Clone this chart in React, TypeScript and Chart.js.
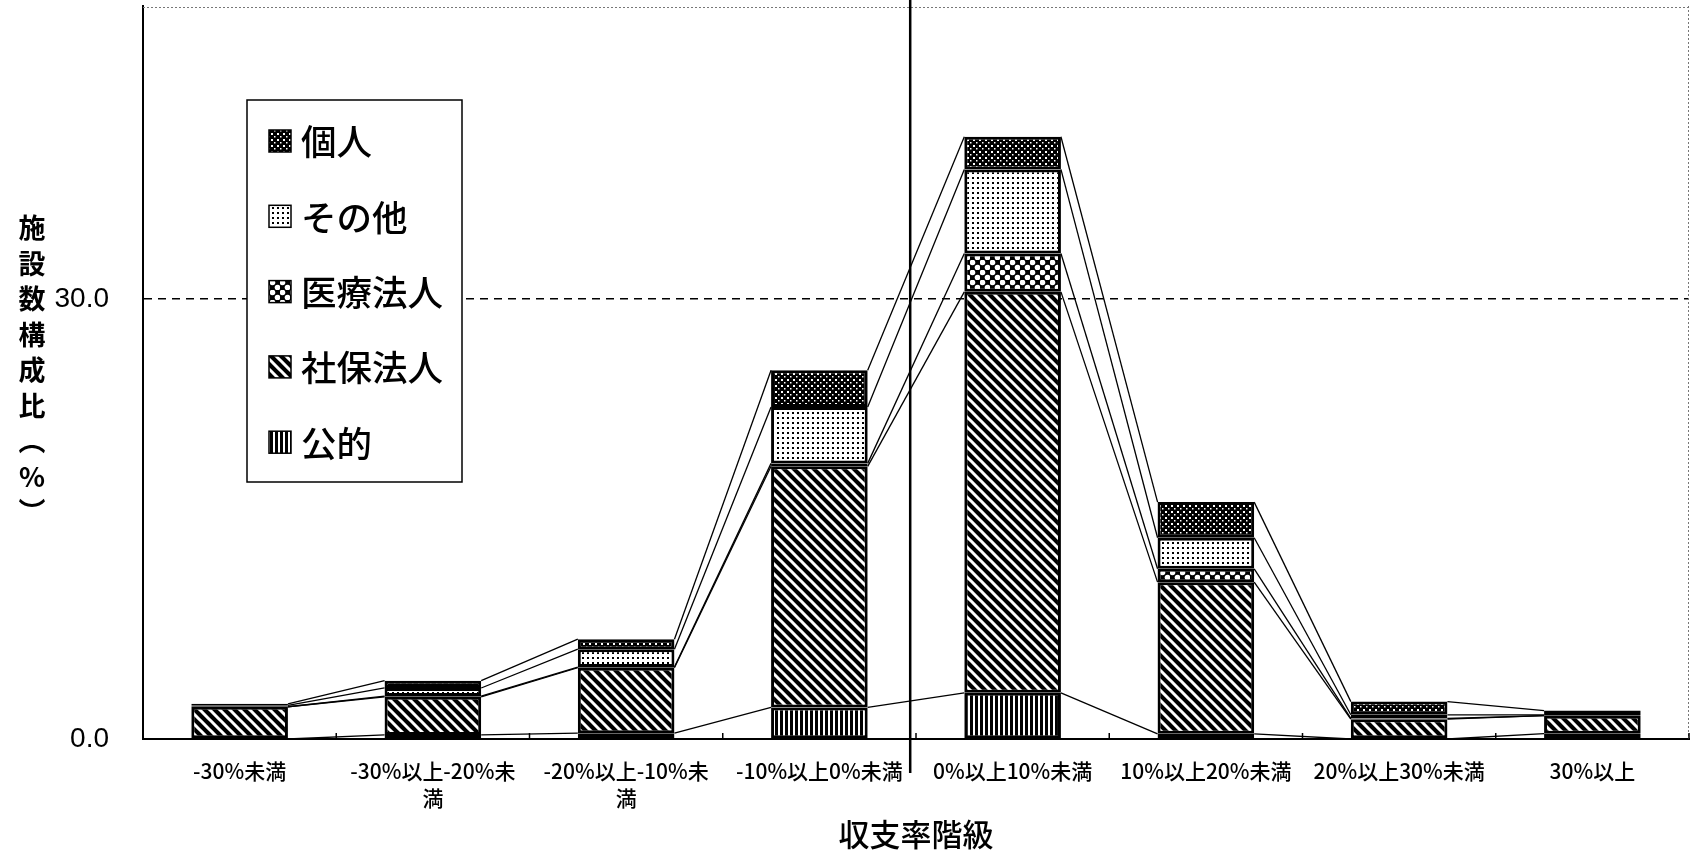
import React, { useEffect, useRef } from 'react';
import { Chart, registerables } from 'chart.js';

Chart.register(...registerables);

// ---- data ----
const categories: (string | string[])[] = [
  '-30%未満',
  ['-30%以上-20%未', '満'],
  ['-20%以上-10%未', '満'],
  '-10%以上0%未満',
  '0%以上10%未満',
  '10%以上20%未満',
  '20%以上30%未満',
  '30%以上',
];

// stacked bottom -> top
const koteki = [0, 0.28, 0.4, 2.15, 3.15, 0.35, 0, 0.36]; // 公的
const shaho = [2.2, 2.6, 4.46, 16.45, 27.35, 10.35, 1.35, 1.23]; // 社保法人
const iryo = [0, 0.05, 0.05, 0.2, 2.62, 0.91, 0.05, 0]; // 医療法人
const sonota = [0.1, 0.55, 1.22, 3.85, 5.73, 2.12, 0.25, 0.05]; // その他
const kojin = [0.1, 0.5, 0.68, 2.5, 2.23, 2.43, 0.9, 0.3]; // 個人

const seriesNames = ['公的', '社保法人', '医療法人', 'その他', '個人'];
const seriesValues = [koteki, shaho, iryo, sonota, kojin];
const patternKinds = ['vertical', 'diagonal', 'checker', 'lightdots', 'darkdots'];
const legendOrder = [4, 3, 2, 1, 0];

const yTickValues = [0, 30];
const yMax = 50;
const yTitle = '施設数構成比（%）';
const xTitle = '収支率階級';

const JP = "'Noto Sans CJK JP', 'Noto Sans', sans-serif";

function makePattern(kind: string): CanvasPattern | string {
  const c = document.createElement('canvas');
  let w = 10, h = 10;
  if (kind === 'darkdots') { w = 6; h = 6; }
  if (kind === 'lightdots') { w = 5; h = 5; }
  if (kind === 'vertical') { w = 5; h = 2; }
  c.width = w; c.height = h;
  const g = c.getContext('2d');
  if (!g) return '#000';
  if (kind === 'darkdots') {
    g.fillStyle = '#000'; g.fillRect(0, 0, w, h);
    g.fillStyle = '#fff'; g.fillRect(1, 1, 2, 2); g.fillRect(4, 4, 1.5, 1.5);
  } else if (kind === 'lightdots') {
    g.fillStyle = '#fff'; g.fillRect(0, 0, w, h);
    g.fillStyle = '#000'; g.fillRect(2, 2, 2, 2);
  } else if (kind === 'checker') {
    g.fillStyle = '#000'; g.fillRect(0, 0, w, h);
    g.fillStyle = '#fff';
    g.beginPath(); g.arc(2.5, 2.5, 2.8, 0, Math.PI * 2); g.fill();
    g.beginPath(); g.arc(7.5, 7.5, 2.8, 0, Math.PI * 2); g.fill();
  } else if (kind === 'diagonal') {
    g.fillStyle = '#000'; g.fillRect(0, 0, w, h);
    g.strokeStyle = '#fff'; g.lineWidth = 3;
    g.beginPath();
    g.moveTo(-5, -5); g.lineTo(15, 15);
    g.moveTo(-5, 5); g.lineTo(5, 15);
    g.moveTo(5, -5); g.lineTo(15, 5);
    g.stroke();
  } else if (kind === 'vertical') {
    g.fillStyle = '#fff'; g.fillRect(0, 0, w, h);
    g.fillStyle = '#000'; g.fillRect(0, 0, 3, h);
  }
  const p = g.createPattern(c, 'repeat');
  return p || '#000';
}

function cumulative(d: number, i: number): number {
  let s = 0;
  for (let k = 0; k <= d; k++) s += seriesValues[k][i];
  return s;
}

const seriesLinesPlugin = {
  id: 'seriesLines',
  afterDatasetsDraw(chart: any) {
    const ctx = chart.ctx;
    const y = chart.scales.y;
    const meta = chart.getDatasetMeta(0);
    ctx.save();
    ctx.strokeStyle = '#000';
    ctx.lineWidth = 1.3;
    for (let d = 0; d < seriesValues.length; d++) {
      for (let i = 0; i < categories.length - 1; i++) {
        const a = meta.data[i];
        const b = meta.data[i + 1];
        const ax = a.x + a.width / 2;
        const bx = b.x - b.width / 2;
        ctx.beginPath();
        ctx.moveTo(ax, y.getPixelForValue(cumulative(d, i)));
        ctx.lineTo(bx, y.getPixelForValue(cumulative(d, i + 1)));
        ctx.stroke();
      }
    }
    ctx.restore();
  },
};

const decorPlugin = {
  id: 'decor',
  afterDraw(chart: any) {
    const ctx = chart.ctx;
    const { left, right, top, bottom } = chart.chartArea;
    const xs = chart.scales.x;
    ctx.save();
    // dotted top / right frame
    ctx.strokeStyle = '#777';
    ctx.lineWidth = 1;
    ctx.setLineDash([2, 2]);
    ctx.beginPath();
    ctx.moveTo(left, top + 1.5); ctx.lineTo(right, top + 1.5);
    ctx.moveTo(right - 0.5, top); ctx.lineTo(right - 0.5, bottom);
    ctx.stroke();
    ctx.setLineDash([]);
    // small inward ticks at category boundaries
    ctx.strokeStyle = '#000';
    ctx.lineWidth = 1.5;
    ctx.beginPath();
    for (let k = 1; k <= categories.length; k++) {
      const x = xs.getPixelForValue(k - 0.5);
      ctx.moveTo(x, bottom); ctx.lineTo(x, bottom - 6);
    }
    ctx.stroke();
    // vertical divider line
    const vx = xs.getPixelForValue(3.47);
    ctx.lineWidth = 2.5;
    ctx.beginPath();
    ctx.moveTo(vx, 0); ctx.lineTo(vx, bottom + 34);
    ctx.stroke();

    // y axis title (vertical stacked characters)
    ctx.fillStyle = '#000';
    ctx.font = `bold 27px ${JP}`;
    ctx.textAlign = 'center';
    ctx.textBaseline = 'middle';
    const chars = Array.from(yTitle).map((ch) => (ch === '（' ? '︵' : ch === '）' ? '︶' : ch));
    chars.forEach((ch, i) => {
      ctx.fillText(ch, 32, 228 + i * 35.5);
    });

    // x axis title
    ctx.font = `500 31px ${JP}`;
    ctx.fillText(xTitle, (left + right) / 2, 834);

    // legend
    const bx = 247, by = 100, bw = 215, bh = 382;
    ctx.fillStyle = '#fff';
    ctx.fillRect(bx, by, bw, bh);
    ctx.strokeStyle = '#000';
    ctx.lineWidth = 1.5;
    ctx.strokeRect(bx, by, bw, bh);
    ctx.font = `500 35.5px ${JP}`;
    ctx.textAlign = 'left';
    legendOrder.forEach((si, row) => {
      const cy = 141 + row * 75.3;
      const ds = chart.data.datasets[si];
      ctx.fillStyle = ds.backgroundColor;
      ctx.fillRect(269, cy - 11, 22, 22);
      ctx.lineWidth = 1.5;
      ctx.strokeRect(269, cy - 11, 22, 22);
      ctx.fillStyle = '#000';
      ctx.fillText(seriesNames[si], 301, cy + 1);
    });
    ctx.restore();
  },
};

export default function App() {
  const ref = useRef<HTMLCanvasElement | null>(null);

  useEffect(() => {
    if (!ref.current) return;
    const datasets = seriesValues.map((vals, i) => ({
      label: seriesNames[i],
      data: vals,
      backgroundColor: makePattern(patternKinds[i]),
      borderColor: '#000',
      borderWidth: 3,
      borderSkipped: false,
      categoryPercentage: 1,
      barPercentage: 0.5,
    }));
    const chart = new Chart(ref.current, {
      type: 'bar',
      data: { labels: categories, datasets: datasets as any },
      options: {
        animation: false,
        responsive: false,
        layout: { padding: { top: 6, right: 9, left: 0, bottom: 0 } },
        plugins: { legend: { display: false }, tooltip: { enabled: false } },
        scales: {
          x: {
            stacked: true,
            grid: { display: false, drawTicks: false },
            border: { display: true, color: '#000', width: 2 },
            ticks: {
              autoSkip: false,
              maxRotation: 0,
              padding: 18,
              color: '#000',
              font: { family: JP, size: 21, weight: '500', lineHeight: 1.3 },
            },
            afterFit: (s: any) => {
              s.height = 121;
              s.paddingLeft = 0;
              s.paddingRight = 0;
            },
          },
          y: {
            stacked: true,
            min: 0,
            max: yMax,
            afterBuildTicks: (s: any) => {
              s.ticks = yTickValues.map((v) => ({ value: v }));
            },
            grid: {
              drawTicks: false,
              lineWidth: 1.5,
              color: (c: any) => (c.tick && c.tick.value === 30 ? '#000' : 'rgba(0,0,0,0)'),
            },
            border: { display: true, color: '#000', width: 2, dash: [8, 6] },
            ticks: {
              padding: 34,
              color: '#000',
              font: { family: "'Liberation Sans', Arial, sans-serif", size: 28 },
              callback: (v: any) => Number(v).toFixed(1),
            },
            afterFit: (s: any) => {
              s.width = 143;
              s.paddingTop = 0;
              s.paddingBottom = 0;
            },
          },
        },
      },
      plugins: [seriesLinesPlugin, decorPlugin],
    });
    return () => chart.destroy();
  }, []);

  return (
    <div style={{ position: 'absolute', left: 0, top: 0, width: 1698, height: 860, background: '#fff' }}>
      <canvas ref={ref} width={1698} height={860} style={{ display: 'block' }} />
    </div>
  );
}
